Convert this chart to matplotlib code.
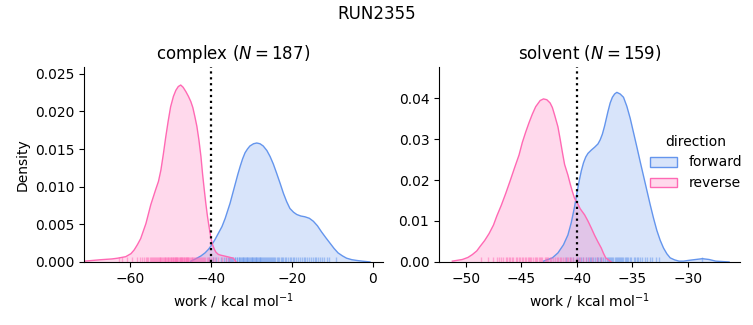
import matplotlib
matplotlib.use("Agg")
import matplotlib.pyplot as plt
from matplotlib.patches import Patch
from matplotlib.colors import to_rgba

# ---------------- data ----------------
suptitle = "RUN2355"
phases = ["complex", "solvent"]
n_samples = [187, 159]
directions = ["forward", "reverse"]
colors = {"forward": "#6495ED", "reverse": "#FF69B4"}
threshold = -40

# complex, reverse density curve
cx_rev_x = [-71.4, -67.2, -64.5, -63.1, -61.1, -59.8, -59.0, -58.2, -57.4, -56.1,
            -54.9, -53.7, -53.0, -52.4, -51.8, -51.2, -50.6, -50.0, -49.3, -48.7,
            -48.1, -47.5, -46.9, -46.2, -45.6, -45.0, -44.5, -44.0, -43.5, -43.0,
            -42.5, -42.1, -41.7, -41.3, -40.9, -40.5, -40.1, -39.7, -39.2, -38.8,
            -38.2, -37.6, -36.0, -34.5, -33.8]
cx_rev_y = [0.0001, 0.0003, 0.0004, 0.0005, 0.0007, 0.0011, 0.0016, 0.0023, 0.0031, 0.0051,
            0.0076, 0.0096, 0.0107, 0.0122, 0.0143, 0.0166, 0.0187, 0.0206, 0.0220, 0.0228,
            0.0233, 0.0235, 0.0232, 0.0226, 0.0220, 0.0213, 0.0205, 0.0193, 0.0180, 0.0162,
            0.0140, 0.0117, 0.0097, 0.0078, 0.0061, 0.0047, 0.0034, 0.0024, 0.0017, 0.0013,
            0.0010, 0.0009, 0.0007, 0.0005, 0.0]
# complex, forward density curve
cx_fwd_x = [-45.0, -43.5, -42.5, -41.5, -40.6, -39.8, -39.0, -38.2, -37.3, -36.5,
            -35.3, -34.1, -33.4, -32.8, -32.2, -31.6, -31.0, -30.4, -29.5, -28.7,
            -27.9, -27.1, -26.2, -25.4, -24.6, -23.8, -22.9, -22.1, -21.3, -20.5,
            -19.6, -18.8, -17.8, -16.8, -15.7, -14.7, -13.7, -12.7, -11.6, -10.6,
            -9.6, -8.6, -7.5, -6.5, -5.2, -4.0, -2.5, -0.7]
cx_fwd_y = [0.0001, 0.0005, 0.0008, 0.0012, 0.0017, 0.0023, 0.0030, 0.0038, 0.0047, 0.0058,
            0.0078, 0.0102, 0.0116, 0.0127, 0.0137, 0.0145, 0.0150, 0.0154, 0.0157, 0.0158,
            0.0157, 0.0154, 0.0148, 0.0140, 0.0130, 0.0118, 0.0104, 0.0091, 0.0080, 0.0071,
            0.0066, 0.0063, 0.0061, 0.0060, 0.0058, 0.0054, 0.0048, 0.0040, 0.0032, 0.0025,
            0.0018, 0.0012, 0.0008, 0.0005, 0.0003, 0.0002, 0.0001, 0.0]
# solvent, reverse density curve
sv_rev_x = [-51.2, -50.3, -49.8, -49.4, -49.0, -48.7, -48.3, -47.9, -47.5, -47.2,
            -46.8, -46.4, -46.0, -45.6, -45.2, -44.9, -44.6, -44.3, -44.0, -43.7,
            -43.3, -43.0, -42.7, -42.4, -42.2, -42.0, -41.7, -41.5, -41.3, -41.1,
            -40.8, -40.6, -40.4, -40.2, -39.9, -39.7, -39.3, -39.0, -38.7, -38.4,
            -38.1, -37.8, -37.6, -37.4, -36.9]
sv_rev_y = [0.0002, 0.0006, 0.0011, 0.0018, 0.0027, 0.0038, 0.0052, 0.0069, 0.0090, 0.0112,
            0.0138, 0.0167, 0.0198, 0.0230, 0.0261, 0.0292, 0.0317, 0.0340, 0.0361, 0.0379,
            0.0394, 0.0398, 0.0396, 0.0388, 0.0377, 0.0359, 0.0330, 0.0300, 0.0268, 0.0238,
            0.0212, 0.0191, 0.0172, 0.0155, 0.0141, 0.0130, 0.0115, 0.0100, 0.0083, 0.0065,
            0.0049, 0.0034, 0.0021, 0.0010, 0.0]
# solvent, forward density curve
sv_fwd_x = [-43.0, -42.2, -41.7, -41.2, -40.8, -40.5, -40.2, -40.0, -39.8, -39.6,
            -39.4, -39.2, -39.0, -38.7, -38.4, -38.1, -37.9, -37.7, -37.5, -37.2,
            -37.0, -36.8, -36.6, -36.4, -36.1, -35.8, -35.5, -35.2, -34.9, -34.6,
            -34.3, -34.0, -33.7, -33.4, -33.1, -32.8, -32.5, -32.2, -31.9, -31.6,
            -31.2, -30.8, -30.4, -29.9, -29.3, -28.7, -28.1, -27.5, -26.9, -26.3]
sv_fwd_y = [0.0002, 0.0010, 0.0022, 0.0042, 0.0066, 0.0096, 0.0135, 0.0167, 0.0196, 0.0222,
            0.0242, 0.0256, 0.0265, 0.0273, 0.0280, 0.0288, 0.0298, 0.0312, 0.0332, 0.0367,
            0.0388, 0.0402, 0.0410, 0.0414, 0.0410, 0.0402, 0.0380, 0.0351, 0.0316, 0.0281,
            0.0245, 0.0210, 0.0175, 0.0140, 0.0107, 0.0077, 0.0053, 0.0034, 0.0020, 0.0010,
            0.0005, 0.0002, 0.0002, 0.0004, 0.0006, 0.0008, 0.0006, 0.0002, 0.0001, 0.0]

# rug sample positions
cx_rev_rug = [-62.8, -62.0, -60.8, -59.5, -58.2, -57.6, -57.0, -56.5, -56.1, -55.8,
              -55.5, -55.2, -54.9, -54.6, -54.3, -54.0, -53.8, -53.6, -53.4, -53.1,
              -52.9, -52.7, -52.5, -52.3, -52.1, -51.9, -51.7, -51.5, -51.3, -51.1,
              -50.9, -50.7, -50.6, -50.4, -50.2, -50.0, -49.8, -49.6, -49.5, -49.3,
              -49.2, -49.0, -48.9, -48.7, -48.6, -48.4, -48.3, -48.1, -48.0, -47.8,
              -47.7, -47.5, -47.4, -47.2, -47.1, -46.9, -46.8, -46.6, -46.5, -46.3,
              -46.2, -46.0, -45.9, -45.7, -45.6, -45.4, -45.2, -45.0, -44.8, -44.6,
              -44.4, -44.2, -44.0, -43.7, -43.5, -43.2, -43.0, -42.7, -42.5, -42.2,
              -42.0, -41.7, -41.4, -41.1, -40.8, -40.4, -40.1, -39.5, -39.0, -38.2,
              -37.2, -36.3, -35.5]
cx_fwd_rug = [-40.5, -39.6, -38.8, -37.5, -36.8, -36.2, -35.9, -35.6, -35.3, -35.0,
              -34.7, -34.5, -34.2, -34.0, -33.7, -33.5, -33.2, -33.0, -32.8, -32.6,
              -32.4, -32.2, -32.0, -31.8, -31.6, -31.4, -31.2, -31.0, -30.8, -30.6,
              -30.4, -30.2, -30.0, -29.8, -29.6, -29.4, -29.2, -29.0, -28.8, -28.6,
              -28.4, -28.2, -28.0, -27.8, -27.6, -27.4, -27.2, -27.0, -26.7, -26.5,
              -26.2, -26.0, -25.7, -25.5, -25.2, -25.0, -24.7, -24.4, -24.1, -23.8,
              -23.5, -23.2, -22.8, -22.5, -22.1, -21.8, -21.4, -21.0, -20.6, -20.2,
              -19.8, -19.4, -19.0, -18.5, -18.0, -17.6, -17.1, -16.7, -16.2, -15.8,
              -15.3, -14.9, -14.4, -14.0, -13.5, -13.0, -12.5, -12.0, -11.4, -10.8,
              -9.2]
sv_rev_rug = [-48.6, -48.0, -47.5, -47.2, -47.0, -46.8, -46.6, -46.4, -46.3, -46.1,
              -46.0, -45.8, -45.7, -45.5, -45.4, -45.2, -45.1, -44.9, -44.8, -44.7,
              -44.6, -44.4, -44.3, -44.2, -44.1, -43.9, -43.8, -43.7, -43.6, -43.4,
              -43.3, -43.2, -43.1, -42.9, -42.8, -42.7, -42.6, -42.4, -42.3, -42.1,
              -42.0, -41.8, -41.7, -41.5, -41.4, -41.2, -41.1, -40.9, -40.8, -40.6,
              -40.5, -40.3, -40.1, -39.9, -39.7, -39.4, -39.2, -38.9, -38.6, -38.2,
              -37.8]
sv_fwd_rug = [-41.0, -40.6, -40.3, -40.0, -39.8, -39.6, -39.4, -39.2, -39.0, -38.8,
              -38.7, -38.5, -38.4, -38.2, -38.1, -37.9, -37.8, -37.6, -37.5, -37.3,
              -37.2, -37.1, -37.0, -36.9, -36.8, -36.7, -36.6, -36.5, -36.4, -36.3,
              -36.2, -36.1, -36.0, -35.9, -35.8, -35.7, -35.6, -35.5, -35.4, -35.2,
              -35.1, -34.9, -34.8, -34.6, -34.5, -34.3, -34.1, -33.9, -33.7, -33.4,
              -33.2, -32.9, -32.6, -28.7]

curves = {
    "complex": {"forward": (cx_fwd_x, cx_fwd_y, cx_fwd_rug),
                "reverse": (cx_rev_x, cx_rev_y, cx_rev_rug)},
    "solvent": {"forward": (sv_fwd_x, sv_fwd_y, sv_fwd_rug),
                "reverse": (sv_rev_x, sv_rev_y, sv_rev_rug)},
}
xlims = {"complex": (-71.4, 2.5), "solvent": (-52.4, -25.3)}
ylims = {"complex": (0, 0.0259), "solvent": (0, 0.0476)}
xticks = {"complex": [-60, -40, -20, 0], "solvent": [-50, -45, -40, -35, -30]}
yticks = {"complex": [0.0, 0.005, 0.010, 0.015, 0.020, 0.025],
          "solvent": [0.0, 0.01, 0.02, 0.03, 0.04]}
yfmt = {"complex": "{:.3f}", "solvent": "{:.2f}"}

# ---------------- figure ----------------
fig = plt.figure(figsize=(7.53, 3.25), dpi=100)
axes = [fig.add_axes([0.1116, 0.194, 0.397, 0.600]),
        fig.add_axes([0.583, 0.194, 0.400, 0.600])]

for ax, phase, n in zip(axes, phases, n_samples):
    for d in directions:
        x, y, rug = curves[phase][d]
        c = colors[d]
        ax.fill_between(x, y, 0, facecolor=to_rgba(c, 0.25), edgecolor="none")
        ax.plot(x, y, color=c, lw=1, solid_joinstyle="round")
        for r in rug:
            ax.plot([r, r], [0, 0.025], color=c, lw=1, alpha=0.5,
                    transform=ax.get_xaxis_transform(), solid_capstyle="butt")
    ax.axvline(threshold, color="black", ls=":", lw=1.6)
    ax.set_xlim(*xlims[phase])
    ax.set_ylim(*ylims[phase])
    ax.set_xticks(xticks[phase])
    ax.set_xticklabels([f"{t:g}".replace("-", "\u2212") for t in xticks[phase]])
    ax.set_yticks(yticks[phase])
    ax.set_yticklabels([yfmt[phase].format(t) for t in yticks[phase]])
    ax.set_xlabel(r"work / kcal mol$^{-1}$")
    ax.set_title(rf"{phase} ($N = {n}$)", fontsize=12)
    ax.spines["top"].set_visible(False)
    ax.spines["right"].set_visible(False)

axes[0].set_ylabel("Density")
fig.suptitle(suptitle, fontsize=12, y=0.985)

handles = [Patch(facecolor=to_rgba(colors[d], 0.25), edgecolor=colors[d], label=d)
           for d in directions]
fig.legend(handles=handles, title="direction", frameon=False, loc="center left",
           bbox_to_anchor=(0.846, 0.5), fontsize=10, title_fontsize=10)

fig.savefig("out.png", dpi=100)
